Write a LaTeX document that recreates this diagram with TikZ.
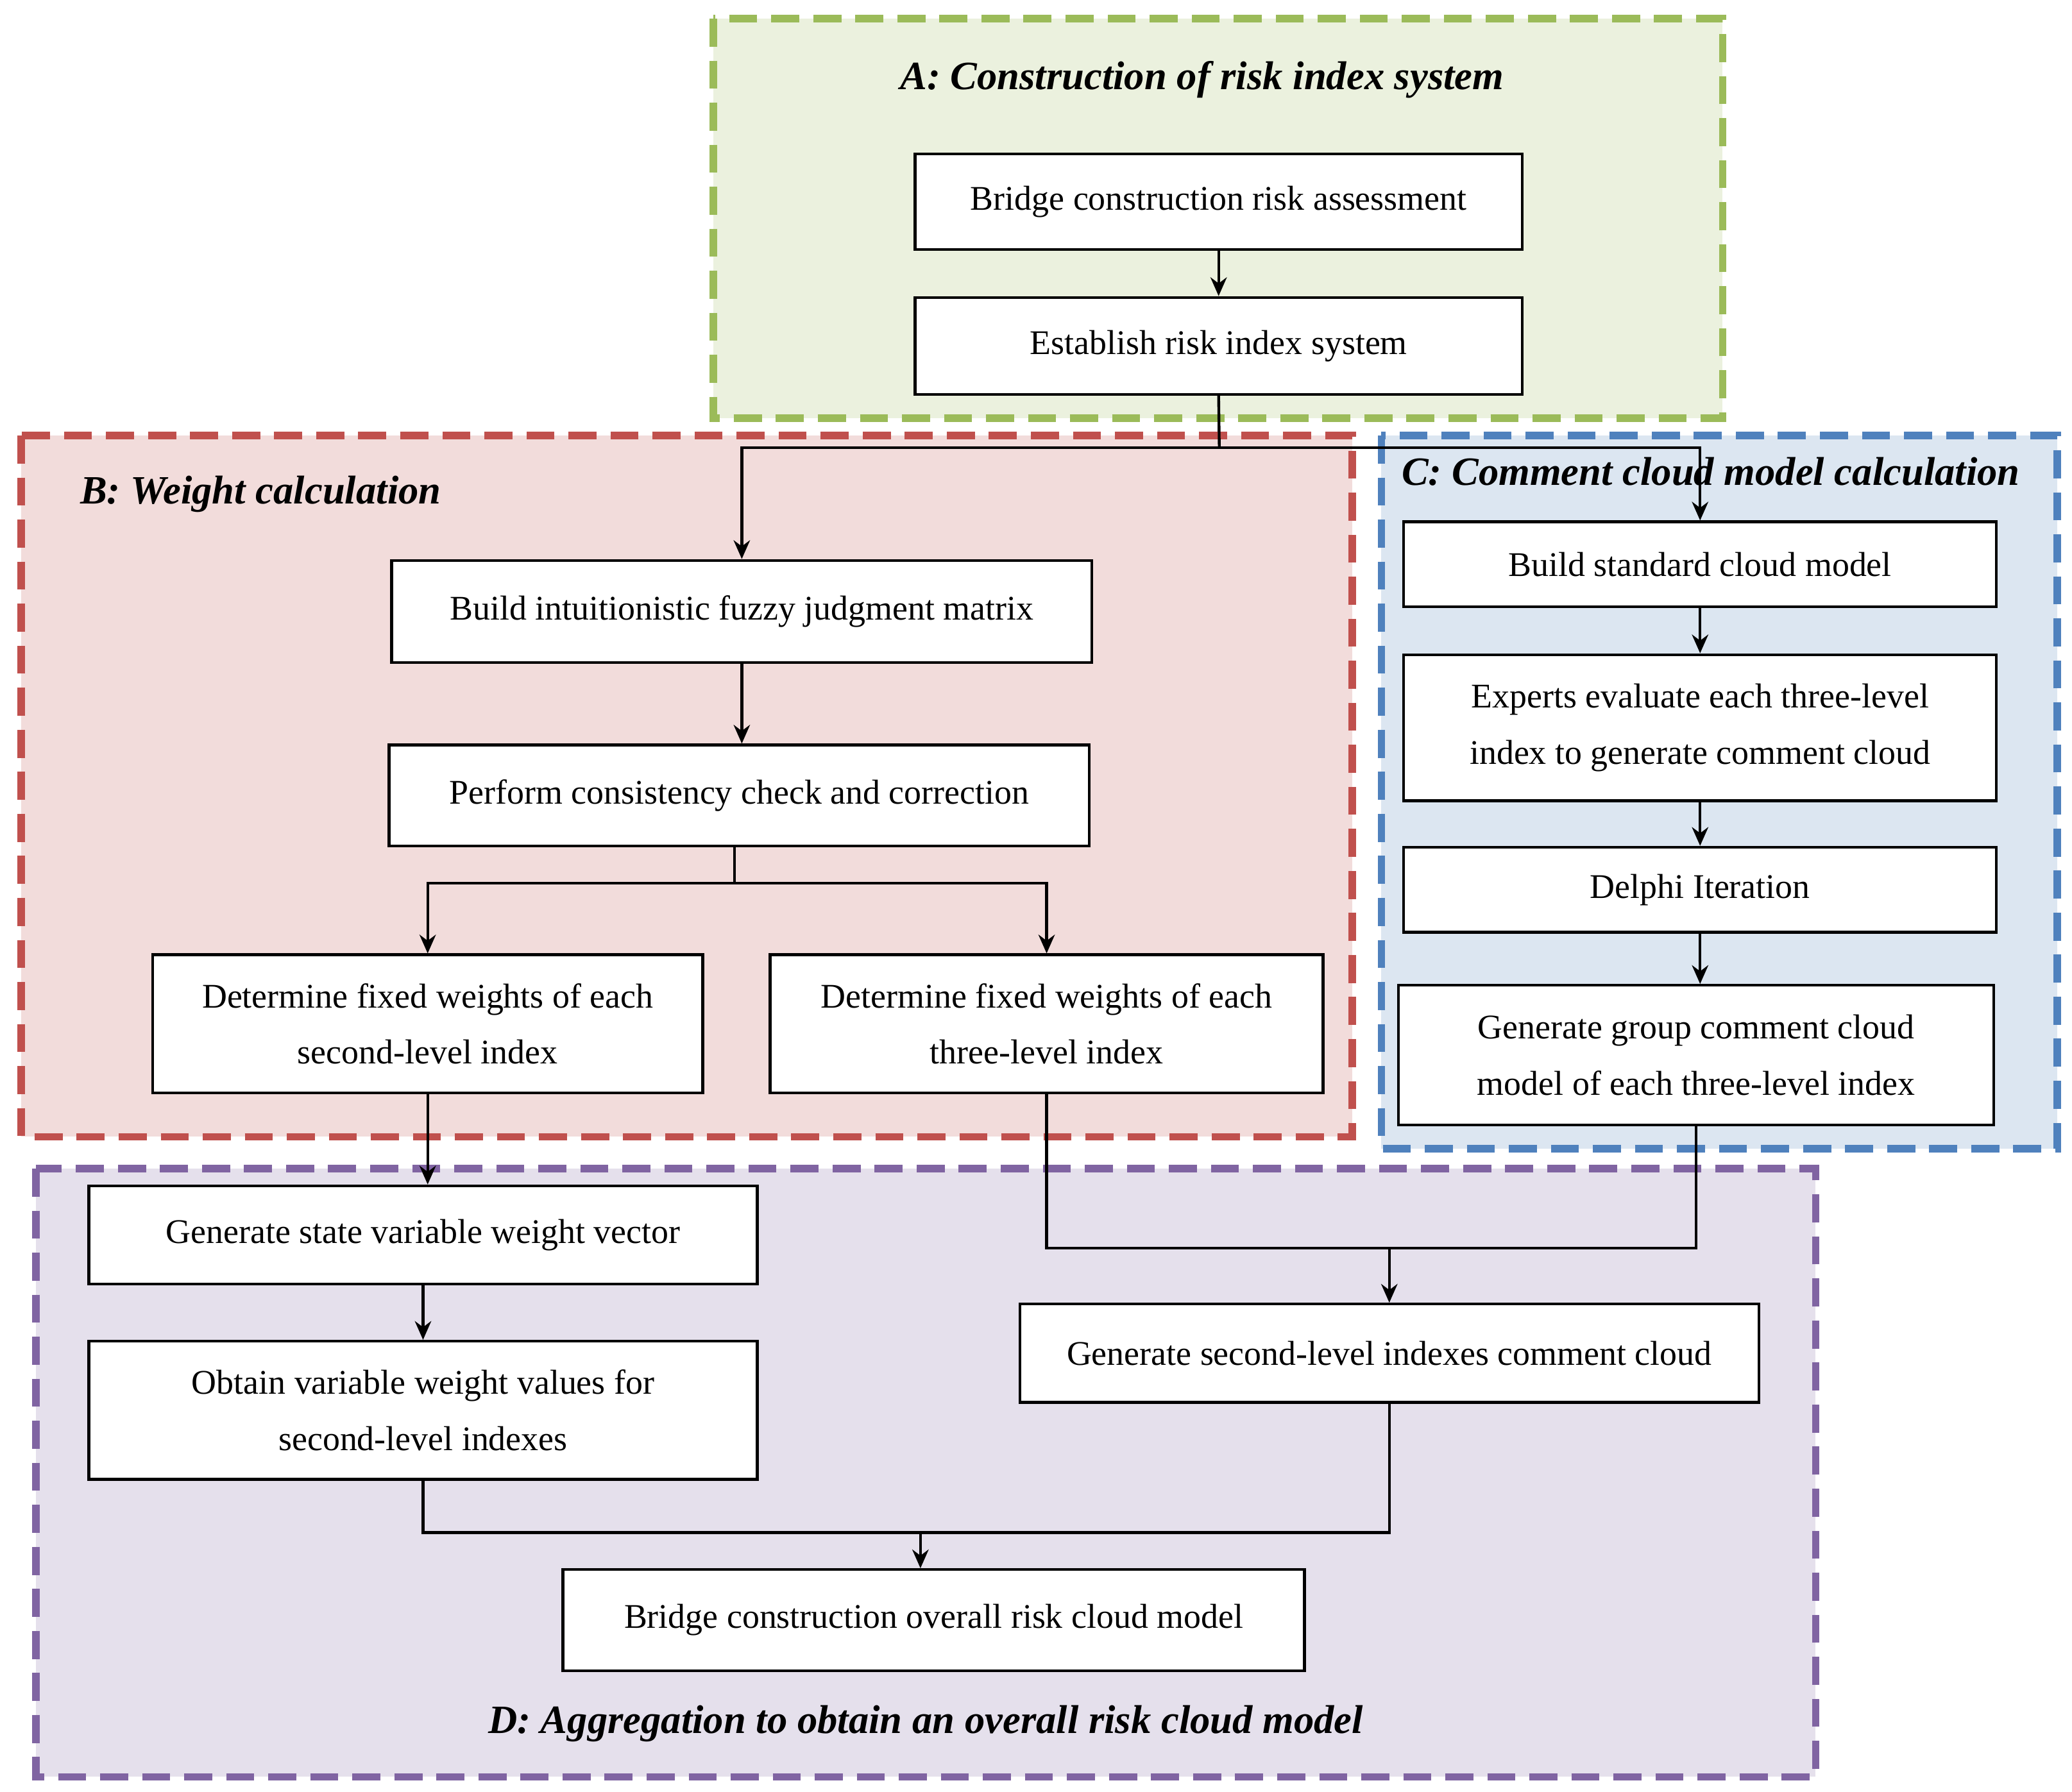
\documentclass[tikz,border=0pt]{standalone}
\usepackage{fontspec}
\setmainfont{Liberation Serif}
\usetikzlibrary{positioning, arrows.meta}
\definecolor{frameA}{HTML}{9BBB59}
\definecolor{fillA}{HTML}{EBF1DE}
\definecolor{frameB}{HTML}{C0504D}
\definecolor{fillB}{HTML}{F2DCDB}
\definecolor{frameC}{HTML}{4F81BD}
\definecolor{fillC}{HTML}{DCE6F1}
\definecolor{frameD}{HTML}{8064A2}
\definecolor{fillD}{HTML}{E5E0EC}
\tikzset{
  box/.style={draw, fill=white, align=center, inner sep=0pt, line width=0.6pt},
  frame/.style={dashed, dash pattern=on 6pt off 3pt, line width=1.6pt},
  title/.style={font=\bfseries\itshape\fontsize{8.6}{10}\selectfont},
  link/.style={line width=0.6pt},
}
\begin{document}
\begin{tikzpicture}[x=0.01cm, y=-0.01cm, >={Stealth[length=4pt,width=3.5pt]},
  font=\fontsize{7.4}{12}\selectfont]
    \useasboundingbox (0,0) rectangle (1560,1349);
    % Frames
    \draw[frame, draw=frameA, fill=fillA] (537,14) rectangle (1297,315);
    \draw[frame, draw=frameB, fill=fillB] (16,328) rectangle (1018,856);
    \draw[frame, draw=frameC, fill=fillC] (1040,328) rectangle (1549,865);
    \draw[frame, draw=frameD, fill=fillD] (27,880) rectangle (1367,1338);
    \node[title] (tA) at (905,60) {A: Construction of risk index system};
    \node[title, anchor=west] (tB) at (48,372) {B: Weight calculation};
    \node[title] (tC) at (1288,355) {C: Comment cloud model calculation};
    \node[title] (tD) at (697,1298) {D: Aggregation to obtain an overall risk cloud model};

    % Boxes
    \node[box, minimum width=4.57cm, minimum height=0.72cm] (a1) at (917.5,152) {Bridge construction risk assessment};
    \node[box, minimum width=4.57cm, minimum height=0.73cm] (a2) at (917.5,260.5) {Establish risk index system};
    \node[box, minimum width=5.27cm, minimum height=0.77cm] (b1) at (558.5,460.5) {Build intuitionistic fuzzy judgment matrix};
    \node[box, minimum width=5.27cm, minimum height=0.76cm] (b2) at (556.5,599) {Perform consistency check and correction};
    \node[box, minimum width=4.14cm, minimum height=1.04cm] (b3) at (322,771) {Determine fixed weights of each\\second-level index};
    \node[box, minimum width=4.16cm, minimum height=1.04cm] (b4) at (788,771) {Determine fixed weights of each\\three-level index};
    \node[box, minimum width=4.46cm, minimum height=0.64cm] (c1) at (1280,425) {Build standard cloud model};
    \node[box, minimum width=4.46cm, minimum height=1.10cm] (c2) at (1280,548) {Experts evaluate each three-level\\index to generate comment cloud};
    \node[box, minimum width=4.46cm, minimum height=0.64cm] (c3) at (1280,670) {Delphi Iteration};
    \node[box, minimum width=4.48cm, minimum height=1.05cm] (c4) at (1277,794.5) {Generate group comment cloud\\model of each three-level index};
    \node[box, minimum width=5.03cm, minimum height=0.74cm] (d1) at (318.5,930) {Generate state variable weight vector};
    \node[box, minimum width=5.03cm, minimum height=1.04cm] (d2) at (318.5,1062) {Obtain variable weight values for\\second-level indexes};
    \node[box, minimum width=5.56cm, minimum height=0.74cm] (d3) at (1046,1019) {Generate second-level indexes comment cloud};
    \node[box, minimum width=5.58cm, minimum height=0.76cm] (d4) at (703,1220) {Bridge construction overall risk cloud model};

    % Connectors
    \coordinate (jA) at (918,337);
    \coordinate (jB) at (553,665);
    \coordinate (jC) at (1046,940);
    \coordinate (jD) at (693,1154);
    \draw[link, ->] (a1) -- (a2);
    \draw[link] (a2.south) -- (jA);
    \draw[link, ->] (jA) -| (b1.north);
    \draw[link, ->] (jA) -| (c1.north);
    \draw[link, ->] (b1) -- (b1 |- b2.north);
    \draw[link] (b2.south -| jB) -- (jB);
    \draw[link, ->] (jB) -| (b3.north);
    \draw[link, ->] (jB) -| (b4.north);
    \draw[link, ->] (c1) -- (c2);
    \draw[link, ->] (c2) -- (c3);
    \draw[link, ->] (c3) -- (c3 |- c4.north);
    \draw[link, ->] (b3.south) -- (b3.south |- d1.north);
    \draw[link] (b4.south) |- (jC) -| (c4.south);
    \draw[link, ->] (jC) -- (d3.north);
    \draw[link, ->] (d1.south -| d2.north) -- (d2.north);
    \draw[link] (d2.south) |- (jD) -| (d3.south);
    \draw[link, ->] (jD) -- (jD |- d4.north);
\end{tikzpicture}
\end{document}
